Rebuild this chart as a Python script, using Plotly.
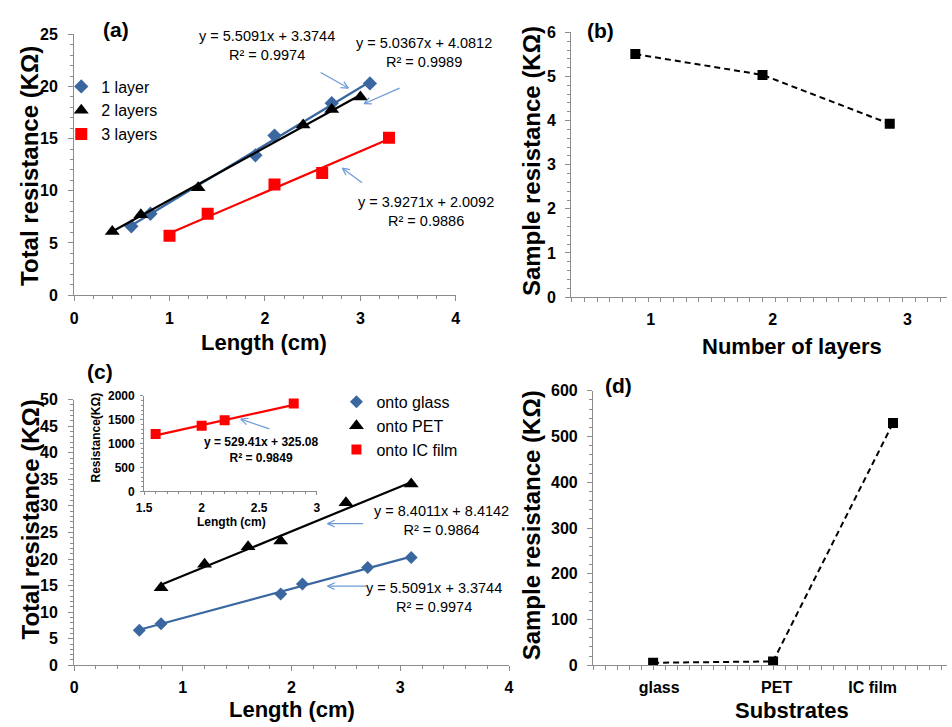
import math
import plotly.graph_objects as go

# ---- Panel (a): total resistance vs. length for 1, 2 and 3 layers ----
len_1layer = [0.6, 0.8, 1.9, 2.1, 2.7, 3.1]
res_1layer = [6.6, 7.8, 13.4, 15.3, 18.4, 20.3]
len_2layer = [0.4, 0.7, 1.3, 2.4, 2.7, 3.0]
res_2layer = [6.1, 7.7, 10.3, 16.3, 17.8, 19.0]
len_3layer = [1.0, 1.4, 2.1, 2.6, 3.3]
res_3layer = [5.7, 7.8, 10.6, 11.7, 15.1]
fit_1layer = (5.5091, 3.3744, 0.9974)   # slope, intercept, R^2
fit_2layer = (5.0367, 4.0812, 0.9989)
fit_3layer = (3.9271, 2.0092, 0.9886)

# ---- Panel (b): sample resistance vs. number of layers ----
layers = [1, 2, 3]
sample_res_layers = [5.5091, 5.0367, 3.9271]

# ---- Panel (c): total resistance vs. length on different substrates ----
len_glass = [0.6, 0.8, 1.9, 2.1, 2.7, 3.1]
res_glass = [6.6, 7.8, 13.4, 15.3, 18.4, 20.3]
len_pet = [0.8, 1.2, 1.6, 1.9, 2.5, 3.1]
res_pet = [14.6, 19.0, 22.3, 23.4, 30.6, 34.1]
len_ic = [1.6, 2.0, 2.2, 2.8]
res_ic = [1200, 1370, 1490, 1840]
fit_glass = (5.5091, 3.3744, 0.9974)
fit_pet = (8.4011, 8.4142, 0.9864)
fit_ic = (529.41, 325.08, 0.9849)

# ---- Panel (d): sample resistance vs. substrate ----
substrates = ["glass", "PET", "IC film"]
sample_res_substrates = [5.5091, 8.4011, 529.41]

W, H = 952, 727
FONT = "Liberation Sans, Arial, sans-serif"
BLUE = "#3A67A0"
ARROW = "#6E9BD6"
AXC = "#8C8C8C"


def fx(p):
    return p / W


def fy(p):
    return 1 - p / H


def trend(xs, fit):
    m, b, _ = fit
    x0, x1 = min(xs), max(xs)
    return [x0, x1], [m * x0 + b, m * x1 + b]


def eq_text(fit):
    m, b, r2 = fit
    return f"y = {m}x + {b}<br>R² = {r2}"


fig = go.Figure()


def add_series(xs, ys, fit, name, color, symbol, size, ax, legend, lw=2.2):
    tx, ty = trend(xs, fit)
    fig.add_trace(go.Scatter(x=tx, y=ty, mode="lines", line=dict(color=color, width=lw),
                             xaxis=ax[0], yaxis=ax[1], showlegend=False, hoverinfo="skip"))
    fig.add_trace(go.Scatter(x=xs, y=ys, mode="markers", name=name,
                             marker=dict(color=color, symbol=symbol, size=size),
                             xaxis=ax[0], yaxis=ax[1], legend=legend))


# panel (a)
add_series(len_1layer, res_1layer, fit_1layer, "1 layer", BLUE, "diamond", 11, ("x", "y"), "legend")
add_series(len_2layer, res_2layer, fit_2layer, "2 layers", "black", "triangle-up", 13, ("x", "y"), "legend")
add_series(len_3layer, res_3layer, fit_3layer, "3 layers", "#FF0000", "square", 12, ("x", "y"), "legend")

# panel (b)
fig.add_trace(go.Scatter(x=layers, y=sample_res_layers, mode="lines+markers",
                         line=dict(color="black", width=2, dash="6px,4px"),
                         marker=dict(color="black", symbol="square", size=10),
                         xaxis="x2", yaxis="y2", showlegend=False))

# panel (c)
add_series(len_glass, res_glass, fit_glass, "onto glass", BLUE, "diamond", 10, ("x3", "y3"), "legend2")
add_series(len_pet, res_pet, fit_pet, "onto PET", "black", "triangle-up", 13, ("x3", "y3"), "legend2")
# IC film data on the inset axes, still listed in the panel (c) legend
add_series(len_ic, res_ic, fit_ic, "onto IC film", "#FF0000", "square", 10, ("x5", "y5"), "legend2")

# panel (d)
sub_pos = list(range(1, len(substrates) + 1))
fig.add_trace(go.Scatter(x=sub_pos, y=sample_res_substrates, mode="lines+markers",
                         line=dict(color="black", width=2, dash="6px,4px"),
                         marker=dict(color="black", symbol="square", size=10),
                         xaxis="x4", yaxis="y4", showlegend=False))

tickfont = dict(family=FONT, size=16, color="black", weight="bold")


def axis(domain, rng, dtick, minor_dtick, anchor, font=tickfont, ticklen=5, standoff=4, **kw):
    d = dict(domain=domain, range=rng, dtick=dtick, tick0=0, showline=True, linecolor=AXC,
             linewidth=1, ticks="outside", ticklen=ticklen, tickcolor=AXC, showgrid=False,
             zeroline=False, tickfont=font, anchor=anchor, fixedrange=True,
             ticklabelstandoff=standoff,
             minor=dict(dtick=minor_dtick, ticks="outside", ticklen=max(ticklen - 2, 2),
                        tickcolor=AXC, showgrid=False))
    d.update(kw)
    return d


small_font = dict(family=FONT, size=12, color="black", weight="bold")
legend_font = dict(family=FONT, size=16, color="black", weight="normal")

layout = dict(
    width=W, height=H, margin=dict(l=0, r=0, t=0, b=0),
    paper_bgcolor="white", plot_bgcolor="white",
    font=dict(family=FONT, color="black"),
    showlegend=True,
    # (a)
    xaxis=axis([fx(67), fx(454)], [0, 4], 1, 0.2, "y", standoff=4),
    yaxis=axis([fy(294), fy(27)], [0, 25], 5, 1, "x", standoff=7),
    # (b)
    xaxis2=dict(domain=[fx(571), 1.0], range=[0.496, 3.45], anchor="y2", showline=True,
                linecolor=AXC, showgrid=False, zeroline=False, ticks="", tickfont=tickfont,
                tickvals=[1.12, 2.08, 3.14], ticktext=[str(v) for v in layers],
                ticklabelstandoff=8, fixedrange=True,
                minor=dict(tick0=0.5, dtick=0.1, ticks="outside", ticklen=4, tickcolor=AXC,
                           showgrid=False)),
    yaxis2=axis([fy(296), fy(25)], [0, 6], 1, 0.2, "x2", standoff=6),
    # (c)
    xaxis3=axis([fx(67), fx(508)], [0, 4], 1, 0.2, "y3", standoff=3),
    yaxis3=axis([fy(673), fy(401)], [0, 50], 5, 1, "x3", standoff=7),
    # (d)
    xaxis4=dict(domain=[fx(593), 1.0], range=[0.498, 3.45], anchor="y4", showline=True,
                linecolor=AXC, showgrid=False, zeroline=False, ticks="", tickfont=tickfont,
                tickvals=[1.05, 2.03, 2.83], ticktext=substrates,
                ticklabelstandoff=8, fixedrange=True,
                minor=dict(tick0=0.5, dtick=0.1, ticks="outside", ticklen=4, tickcolor=AXC,
                           showgrid=False)),
    yaxis4=axis([fy(673), fy(392)], [0, 600], 100, 20, "x4", standoff=6),
    # inset of (c)
    xaxis5=axis([fx(138), fx(313)], [1.5, 3], 0.5, 0.1, "y5", font=small_font, ticklen=3,
                standoff=2, tick0=1.5),
    yaxis5=axis([fy(495), fy(397)], [0, 2000], 500, 100, "x5", font=small_font, ticklen=3,
                standoff=3),
    legend=dict(x=fx(54), y=fy(63), xanchor="left", yanchor="top", bgcolor="rgba(0,0,0,0)",
                font=legend_font, itemwidth=30, tracegroupgap=0),
    legend2=dict(x=fx(333), y=fy(386), xanchor="left", yanchor="top", bgcolor="rgba(0,0,0,0)",
                 font=legend_font, itemwidth=30, tracegroupgap=0),
)
fig.update_layout(**layout)

ann = []


def text(x, y, s, size, bold=True, angle=0, align="center"):
    ann.append(dict(x=fx(x), y=fy(y), xref="paper", yref="paper", text=s, showarrow=False,
                    textangle=angle, align=align, xanchor="center", yanchor="middle",
                    font=dict(family=FONT, size=size, color="black",
                              weight="bold" if bold else "normal")))


# axis titles
text(260, 342, "Length (cm)", 22)
text(22, 162, "Total resistance (KΩ)", 24, angle=-90)
text(795, 347, "Number of layers", 22)
text(531, 157, "Sample resistance (KΩ)", 24, angle=-90)
text(288, 718, "Length (cm)", 22)
text(23, 524, "Total resistance (KΩ)", 24, angle=-90)
text(795, 719, "Substrates", 22)
text(531, 530, "Sample resistance (KΩ)", 24, angle=-90)
text(227, 526, "Length (cm)", 12)
text(89, 440, "Resistance(KΩ)", 12, angle=-90)

# panel tags
text(109, 22, "(a)", 21)
text(601, 23, "(b)", 21)
text(93, 372, "(c)", 21)
text(619, 387, "(d)", 21)

# trendline equations
text(263, 38, eq_text(fit_1layer), 14.5, bold=False)
text(422, 46, eq_text(fit_2layer), 14.5, bold=False)
text(424, 208, eq_text(fit_3layer), 14.5, bold=False)
text(256, 453, eq_text(fit_ic), 12, bold=True)
text(439, 525, eq_text(fit_pet), 14.5, bold=False)
text(432, 604, eq_text(fit_glass), 14.5, bold=False)

fig.update_layout(annotations=ann)

# thin pointer arrows linking equations to their lines
shapes = []


def pointer(x0, y0, x1, y1, head=8):
    shapes.append(dict(type="line", xref="paper", yref="paper", x0=fx(x0), y0=fy(y0),
                       x1=fx(x1), y1=fy(y1), line=dict(color=ARROW, width=1.2)))
    ang = math.atan2(y0 - y1, x0 - x1)
    for d in (-0.45, 0.45):
        hx = x1 + head * math.cos(ang + d)
        hy = y1 + head * math.sin(ang + d)
        shapes.append(dict(type="line", xref="paper", yref="paper", x0=fx(x1), y0=fy(y1),
                           x1=fx(hx), y1=fy(hy), line=dict(color=ARROW, width=1.2)))


pointer(317, 66, 345, 82)
pointer(397, 82, 361, 98)
pointer(359, 179, 339, 164)
pointer(265, 431, 236, 421)
pointer(360, 528, 324, 528)
pointer(363, 592, 324, 592)
fig.update_layout(shapes=shapes)

fig.write_html("out.html")
